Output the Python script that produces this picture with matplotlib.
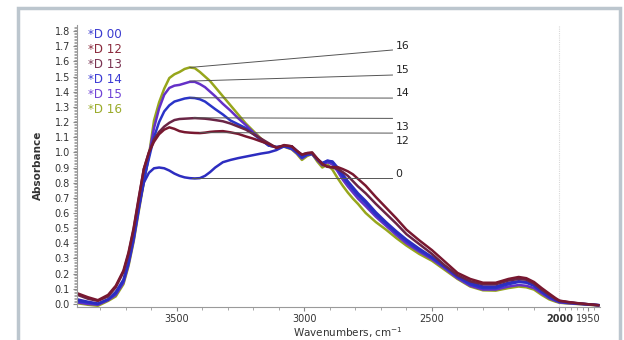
import numpy as np
import matplotlib
matplotlib.use('Agg')
from matplotlib import pyplot as plt
from matplotlib.patches import Rectangle

# wavenumber grid (cm-1) shared by all spectra
wn = [3890, 3850, 3810, 3770, 3740, 3710, 3690, 3670, 3650, 3630,
      3610, 3590, 3570, 3550, 3530, 3510, 3490, 3470, 3450, 3430,
      3410, 3390, 3370, 3350, 3320, 3290, 3260, 3230, 3200, 3170,
      3140, 3110, 3080, 3050, 3030, 3010, 2990, 2970, 2950, 2930,
      2910, 2890, 2870, 2850, 2830, 2810, 2790, 2760, 2720, 2680,
      2640, 2600, 2550, 2500, 2450, 2400, 2350, 2300, 2250, 2200,
      2160, 2130, 2100, 2070, 2040, 2015, 2000, 1985, 1970, 1950, 1933]

d00 = [0.03, 0.015, 0.003, 0.03, 0.08, 0.16, 0.28, 0.45, 0.64, 0.80,
       0.865, 0.895, 0.90, 0.895, 0.88, 0.86, 0.845, 0.835, 0.83, 0.828,
       0.83, 0.845, 0.87, 0.90, 0.935, 0.95, 0.962, 0.972, 0.982, 0.992,
       1.0, 1.015, 1.04, 1.04, 1.01, 0.975, 0.99, 0.99, 0.955, 0.93,
       0.945, 0.94, 0.90, 0.855, 0.81, 0.77, 0.73, 0.68, 0.605, 0.54,
       0.48, 0.425, 0.365, 0.31, 0.25, 0.185, 0.14, 0.115, 0.115, 0.14,
       0.15, 0.145, 0.125, 0.085, 0.05, 0.028, 0.018, 0.01, 0.004, -0.002, -0.007]

d12 = [0.07, 0.045, 0.025, 0.06, 0.12, 0.22, 0.34, 0.50, 0.70, 0.89,
       1.0, 1.07, 1.12, 1.15, 1.165, 1.155, 1.14, 1.133, 1.13, 1.128,
       1.127, 1.13, 1.135, 1.138, 1.14, 1.132, 1.122, 1.105, 1.09, 1.072,
       1.055, 1.03, 1.048, 1.04, 1.01, 0.985, 0.995, 1.0, 0.96, 0.925,
       0.905, 0.903, 0.903, 0.89, 0.875, 0.855, 0.825, 0.78, 0.705, 0.635,
       0.565, 0.49, 0.42, 0.355, 0.28, 0.205, 0.165, 0.14, 0.14, 0.165,
       0.178, 0.17, 0.145, 0.105, 0.068, 0.038, 0.022, 0.013, 0.006, -0.002, -0.008]

d13 = [0.06, 0.035, 0.02, 0.05, 0.11, 0.21, 0.33, 0.49, 0.69, 0.89,
       1.0, 1.085, 1.135, 1.17, 1.195, 1.213, 1.22, 1.222, 1.224, 1.226,
       1.224, 1.222, 1.218, 1.213, 1.205, 1.19, 1.17, 1.15, 1.12, 1.09,
       1.06, 1.03, 1.045, 1.04, 1.01, 0.985, 0.995, 0.995, 0.955, 0.92,
       0.905, 0.90, 0.89, 0.87, 0.845, 0.81, 0.775, 0.73, 0.66, 0.595,
       0.53, 0.46, 0.395, 0.33, 0.255, 0.19, 0.15, 0.13, 0.13, 0.155,
       0.165, 0.16, 0.135, 0.095, 0.06, 0.033, 0.02, 0.012, 0.005, -0.002, -0.008]

d14 = [0.02, 0.01, 0.0, 0.03, 0.07, 0.15, 0.27, 0.43, 0.63, 0.82,
       0.96, 1.10, 1.20, 1.27, 1.31, 1.335, 1.345, 1.355, 1.36, 1.358,
       1.35, 1.335, 1.31, 1.285, 1.25, 1.21, 1.185, 1.16, 1.12, 1.08,
       1.045, 1.035, 1.04, 1.025, 1.0, 0.965, 0.985, 0.99, 0.955, 0.925,
       0.945, 0.935, 0.89, 0.84, 0.795, 0.755, 0.715, 0.665, 0.59, 0.53,
       0.47, 0.415, 0.355, 0.305, 0.245, 0.18, 0.13, 0.105, 0.105, 0.13,
       0.145, 0.14, 0.12, 0.08, 0.045, 0.025, 0.015, 0.008, 0.003, -0.003, -0.008]

d15 = [0.01, 0.0, -0.005, 0.025, 0.06, 0.14, 0.26, 0.42, 0.62, 0.81,
       0.98, 1.16, 1.29, 1.38, 1.425, 1.44, 1.445, 1.455, 1.465, 1.465,
       1.45, 1.43, 1.40, 1.37, 1.32, 1.275, 1.225, 1.18, 1.13, 1.085,
       1.045, 1.035, 1.04, 1.022, 0.995, 0.96, 0.982, 0.99, 0.95, 0.915,
       0.935, 0.92, 0.875, 0.82, 0.775, 0.735, 0.695, 0.645, 0.575, 0.515,
       0.455, 0.40, 0.345, 0.295, 0.235, 0.17, 0.12, 0.095, 0.095, 0.115,
       0.125, 0.12, 0.105, 0.07, 0.037, 0.02, 0.01, 0.005, 0.001, -0.004, -0.009]

d16 = [0.005, -0.005, -0.012, 0.02, 0.05, 0.13, 0.25, 0.41, 0.61, 0.80,
       0.98, 1.21, 1.33, 1.42, 1.49, 1.515, 1.53, 1.55, 1.56, 1.555,
       1.53, 1.50, 1.47, 1.43, 1.37, 1.31, 1.25, 1.19, 1.14, 1.09,
       1.045, 1.035, 1.037, 1.02, 0.99, 0.95, 0.975, 0.99, 0.94, 0.90,
       0.92, 0.885, 0.83, 0.78, 0.735, 0.695, 0.66, 0.60, 0.54, 0.49,
       0.435, 0.385, 0.33, 0.285, 0.225, 0.165, 0.115, 0.09, 0.088, 0.105,
       0.115, 0.11, 0.095, 0.06, 0.03, 0.015, 0.008, 0.003, 0.0, -0.005, -0.01]

series = {'16': d16, '15': d15, '14': d14, '00': d00, '13': d13, '12': d12}
colors = {'00': '#2d2dc0', '12': '#781830', '13': '#6a2546',
          '14': '#2a34c8', '15': '#6430c8', '16': '#97a61c'}
legend_colors = {'00': '#3b3bd0', '12': '#8a2a3c', '13': '#7a3352',
                 '14': '#3b3bd4', '15': '#7042d6', '16': '#9aab2a'}
legend_order = ['00', '12', '13', '14', '15', '16']

# leader lines from peaks to the labels on the right
tags = ['16', '15', '14', '13', '12', '0']
lead_x0 = [3449, 3449, 3448, 3435, 3410, 3440]
lead_y0 = [1.56, 1.47, 1.36, 1.228, 1.13, 0.83]
lead_x1 = 2655
lead_y1 = [1.675, 1.51, 1.358, 1.224, 1.127, 0.83]
tag_y = [1.70, 1.54, 1.39, 1.17, 1.075, 0.86]


# OMNIC style axis: region below 2000 cm-1 is stretched
def fwd(w):
    w = np.asarray(w, dtype=float)
    return np.where(w >= 2000, w - 2000, (w - 2000) * 2.27)


def inv(t):
    t = np.asarray(t, dtype=float)
    return np.where(t >= 0, t + 2000, t / 2.27 + 2000)


fig = plt.figure(figsize=(6.24, 3.4), dpi=100)
fig.patch.set_facecolor('white')
fig.patches.append(Rectangle((18 / 624, -0.1), 602 / 624, 1.1 - 8 / 340,
                             transform=fig.transFigure, fill=False,
                             edgecolor='#bcc6ce', linewidth=2.5))

ax = fig.add_axes([77 / 624, 1 - 307 / 340, 523 / 624, 282 / 340])
ax.set_xscale('function', functions=(fwd, inv))

for key in series:
    ax.plot(wn, series[key], color=colors[key], lw=1.8, solid_joinstyle='round')

ax.axvline(2000, color='#d8d8d8', lw=0.8, ls=(0, (1, 1)), zorder=0)

for i in range(len(tags)):
    ax.plot([lead_x0[i], lead_x1], [lead_y0[i], lead_y1[i]], color='#555555', lw=0.7)
    ax.text(lead_x1 - 12, tag_y[i], tags[i], fontsize=7.8, color='#222222',
            va='center', ha='left')

for i, key in enumerate(legend_order):
    ax.text(0.021, 0.968 - i * 0.0532, '*D ' + key, transform=ax.transAxes,
            fontsize=8.6, color=legend_colors[key], va='center', ha='left')

ax.set_xlim(3892, 1930)
ax.set_ylim(-0.02, 1.84)

ax.set_xticks([3500, 3000, 2500, 2000, 1950])
ax.set_xticklabels(['3500', '3000', '2500', '2000', '1950'])
ax.get_xticklabels()[3].set_fontweight('bold')
ax.set_xticks(list(range(3800, 2000, -100)) + list(range(1990, 1930, -10)), minor=True)
ax.set_yticks(np.round(np.arange(0, 1.81, 0.1), 1))
ax.set_yticklabels(['%.1f' % v for v in np.arange(0, 1.81, 0.1)])
ax.set_yticks(np.arange(0, 1.84, 0.01), minor=True)

ax.tick_params(axis='both', which='major', labelsize=7, colors='#888888',
               labelcolor='#333333', length=3, width=0.8, pad=2)
ax.tick_params(axis='both', which='minor', colors='#999999', length=2, width=0.6)

for s in ['top', 'right']:
    ax.spines[s].set_visible(False)
for s in ['left', 'bottom']:
    ax.spines[s].set_color('#9a9a9a')
    ax.spines[s].set_linewidth(0.8)

fig.text(38 / 624, 1 - 165 / 340, 'Absorbance', rotation=90, fontsize=7.5,
         fontweight='bold', color='#333333', ha='center', va='center')
fig.text(348 / 624, 1 - 333 / 340, 'Wavenumbers, cm$^{-1}$', fontsize=7.5,
         color='#333333', ha='center', va='center')

plt.savefig('out.png', dpi=100)
